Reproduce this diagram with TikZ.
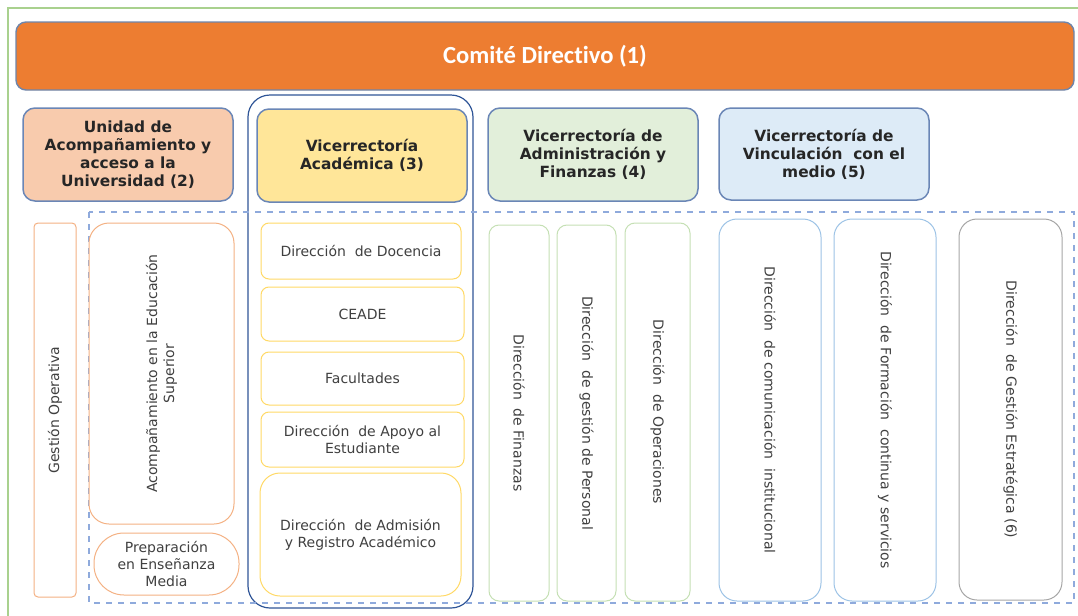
\documentclass[tikz,border=0pt]{standalone}
\usepackage{fontspec}
\setmainfont{DejaVu Sans}
\newfontfamily\calibri[Ligatures=NoCommon]{Carlito}

\definecolor{naranja}{HTML}{ED7D31}
\definecolor{salmon}{HTML}{F8CBAD}
\definecolor{salmonborde}{HTML}{F4B183}
\definecolor{amarillo}{HTML}{FFE699}
\definecolor{amarilloborde}{HTML}{FFD966}
\definecolor{verdeclaro}{HTML}{E2EFDA}
\definecolor{verdeborde}{HTML}{C5E0B4}
\definecolor{celeste}{HTML}{DDEBF7}
\definecolor{celesteborde}{HTML}{9DC3E6}
\definecolor{grisborde}{HTML}{A6A6A6}
\definecolor{azulborde}{HTML}{6A86B6}
\definecolor{azuloscuro}{HTML}{2F5597}
\definecolor{punteado}{HTML}{8FAADC}
\definecolor{verdemarco}{HTML}{A9D18E}
\definecolor{texto}{HTML}{404040}

\begin{document}
\begin{tikzpicture}[x=0.5pt,y=-0.5pt,
    comite/.style={draw=azulborde!80!gray, fill=naranja, rounded corners=5pt, line width=0.7pt,
        inner sep=0pt, text=white, font=\calibri\bfseries\fontsize{12.3}{14}\selectfont},
    vice/.style={draw=azulborde, rounded corners=6pt, line width=0.75pt, inner sep=0pt,
        align=center, text=black!85, font=\bfseries\fontsize{7.7}{9}\selectfont},
    caja/.style={draw, fill=white, line width=0.5pt, inner sep=0pt, align=center,
        text=texto, font=\fontsize{7}{8.5}\selectfont},
    vertical/.style={caja, rotate=-90},
    vertical izq/.style={caja, rotate=90}]

    \useasboundingbox (0,0) rectangle (1078,616);

    % Marco general
    \draw[verdemarco, line width=0.6pt] (8,616) -- (8,8) -- (1078,8);

    % Comite directivo
    \node[comite, minimum width=529pt, minimum height=34pt] (comite) at (545,56) {Comité Directivo (1)};

    % Vicerrectorias
    \node[draw=azuloscuro, line width=0.6pt, rounded corners=11pt, minimum width=112.5pt,
        minimum height=256.5pt] (marcoacad) at (360.5,351.5) {};
    \node[vice, fill=salmon, minimum width=105pt, minimum height=46.5pt] (unidad) at (128,154.5)
        {Unidad de\\Acompañamiento y\\acceso a la\\Universidad (2)};
    \node[vice, fill=amarillo, minimum width=105pt, minimum height=46.5pt] (academica) at (362,155.5)
        {Vicerrectoría\\Académica (3)};
    \node[vice, fill=verdeclaro, minimum width=105pt, minimum height=46.5pt] (admin) at (593,154.5)
        {Vicerrectoría de\\Administración y\\Finanzas (4)};
    \node[vice, fill=celeste, minimum width=105pt, minimum height=46pt] (vinculacion) at (824,154)
        {Vicerrectoría de\\Vinculación\ \ con el\\medio (5)};

    % Area de direcciones
    \draw[punteado, line width=0.6pt, dashed] (89,212) rectangle (1074,603);

    % Unidad de acompanamiento
    \node[vertical izq, draw=salmonborde, rounded corners=2pt, minimum width=187pt,
        minimum height=21pt] (gestion) at (55,410) {Gestión Operativa};
    \node[vertical izq, draw=salmonborde, rounded corners=10pt, minimum width=150.5pt,
        minimum height=72.5pt] (acomp) at (161.5,373.5) {Acompañamiento en la Educación\\Superior};
    \node[caja, draw=salmonborde, rounded corners=15pt, minimum width=72.5pt,
        minimum height=31pt] (prep) at (166.5,564) {Preparación\\en Enseñanza\\Media};

    % Academica
    \node[caja, draw=amarilloborde, rounded corners=4pt, minimum width=100pt,
        minimum height=28pt] (docencia) at (361,251) {Dirección\ \ de Docencia};
    \node[caja, draw=amarilloborde, rounded corners=4pt, minimum width=101.5pt,
        minimum height=27pt] (ceade) at (362.5,314) {CEADE};
    \node[caja, draw=amarilloborde, rounded corners=4pt, minimum width=101.5pt,
        minimum height=26.5pt] (facultades) at (362.5,378.5) {Facultades};
    \node[caja, draw=amarilloborde, rounded corners=4pt, minimum width=101.5pt,
        minimum height=27.5pt] (apoyo) at (362.5,439.5) {Dirección\ \ de Apoyo al\\Estudiante};
    \node[caja, draw=amarilloborde, rounded corners=10pt, minimum width=100.5pt,
        minimum height=61.5pt] (admision) at (360.5,534.5) {Dirección\ \ de Admisión\\y Registro Académico};

    % Administracion y finanzas
    \node[vertical, draw=verdeborde, rounded corners=5pt, minimum width=188pt,
        minimum height=30pt] (finanzas) at (519,413) {Dirección\ \ de Finanzas};
    \node[vertical, draw=verdeborde, rounded corners=5pt, minimum width=188pt,
        minimum height=29.5pt] (personal) at (586.5,413) {Dirección\ \ de gestión de Personal};
    \node[vertical, draw=verdeborde, rounded corners=5pt, minimum width=189pt,
        minimum height=32.5pt] (operaciones) at (657.5,412) {Dirección\ \ de Operaciones};

    % Vinculacion con el medio
    \node[vertical, draw=celesteborde, rounded corners=9pt, minimum width=191pt,
        minimum height=51pt] (comunicacion) at (770,410) {Dirección\ \ de comunicación\ \ institucional};
    \node[vertical, draw=celesteborde, rounded corners=9pt, minimum width=191pt,
        minimum height=51pt] (formacion) at (885,410) {Dirección\ \ de Formación\ \ continua y servicios};

    % Gestion estrategica
    \node[vertical, draw=grisborde, rounded corners=9pt, minimum width=190.5pt,
        minimum height=51.5pt] (estrategica) at (1010.5,409.5) {Dirección\ \ de Gestión Estratégica (6)};

\end{tikzpicture}
\end{document}
